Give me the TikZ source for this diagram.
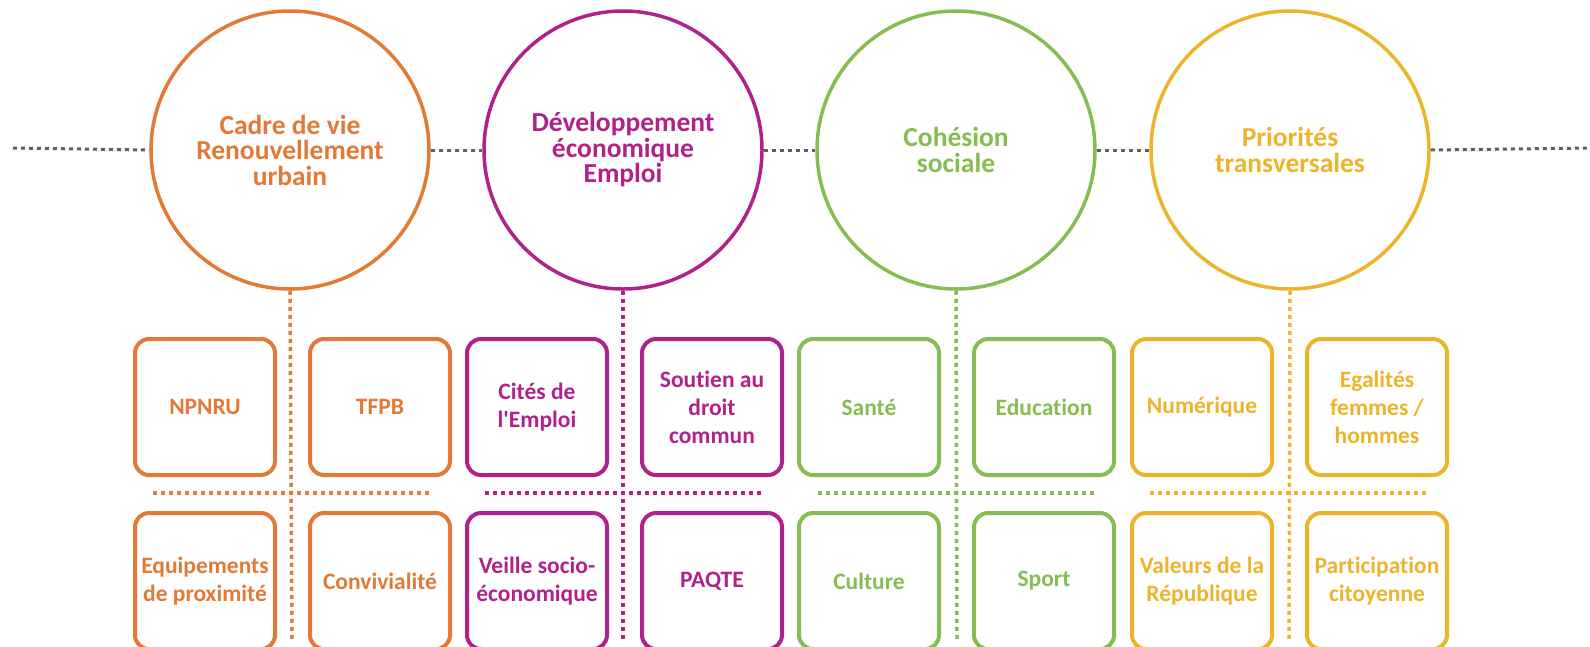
\documentclass[tikz,border=0pt]{standalone}
\usepackage{fontspec}
\setmainfont{Carlito}[Ligatures={TeXOff,CommonOff}]
\definecolor{corange}{RGB}{226,121,55}
\definecolor{cmagenta}{RGB}{177,33,140}
\definecolor{cgreen}{RGB}{134,189,82}
\definecolor{cyellow}{RGB}{236,180,42}
\definecolor{cgray}{RGB}{98,92,104}
\tikzset{
  theme/.style={circle, draw=#1, text=#1, line width=3.5pt, minimum size=278pt, inner sep=0pt,
    align=center, font=\bfseries\fontsize{27.5}{25.5}\selectfont},
  itembox/.style={rectangle, rounded corners=14pt, draw=#1, text=#1, line width=4pt,
    minimum width=140pt, minimum height=136pt, inner sep=2pt, align=center,
    font=\bfseries\fontsize{23.5}{28}\selectfont},
  graydots/.style={draw=cgray, line width=3pt, dash pattern=on 4pt off 4pt},
  colordots/.style={draw=#1, line width=3.5pt, dash pattern=on 4pt off 4pt},
}
\begin{document}
\begin{tikzpicture}[x=1pt,y=-1pt]
\useasboundingbox (0,0) rectangle (1590,646);
\clip (0,0) rectangle (1590,646);

% circles
\node[theme=corange]  (c1) at (290,150) {Cadre de vie\\Renouvellement\\urbain};
\node[theme=cmagenta] (c2) at (623,150) {Développement\\économique\\Emploi};
\node[theme=cgreen]   (c3) at (956,150) {Cohésion\\sociale};
\node[theme=cyellow]  (c4) at (1290,150) {Priorités\\transversales};

% gray horizontal connectors
\coordinate (gl) at (13,148);
\coordinate (gr) at (1592,148);
\draw[graydots] (gl) -- (c1.west);
\draw[graydots] (c1.east) -- (c2.west);
\draw[graydots] (c2.east) -- (c3.west);
\draw[graydots] (c3.east) -- (c4.west);
\draw[graydots] (c4.east) -- (gr);

% orange group
\node[itembox=corange] (o1) at (205,407) {NPNRU};
\node[itembox=corange] (o2) at (380,407) {TFPB};
\node[itembox=corange] (o3) at (205,581) {Equipements\\de proximité};
\node[itembox=corange] (o4) at (380,581) {Convivialité};
\coordinate (ov) at (292,640);
\coordinate (ohl) at (153,493);
\coordinate (ohr) at (430,493);
\draw[colordots=corange] (c1.south) -- (ov);
\draw[colordots=corange] (ohl) -- (ohr);

% magenta group
\node[itembox=cmagenta] (m1) at (537,407) {Cités de\\l'Emploi};
\node[itembox=cmagenta] (m2) at (712,407) {Soutien au\\droit\\commun};
\node[itembox=cmagenta] (m3) at (537,581) {Veille socio-\\économique};
\node[itembox=cmagenta] (m4) at (712,581) {PAQTE};
\coordinate (mv) at (623,640);
\coordinate (mhl) at (485,493);
\coordinate (mhr) at (762,493);
\draw[colordots=cmagenta] (c2.south) -- (mv);
\draw[colordots=cmagenta] (mhl) -- (mhr);

% green group
\node[itembox=cgreen] (g1) at (869,407) {Santé};
\node[itembox=cgreen] (g2) at (1044,407) {Education};
\node[itembox=cgreen] (g3) at (869,581) {Culture};
\node[itembox=cgreen] (g4) at (1044,581) {Sport};
\coordinate (gv) at (957,640);
\coordinate (ghl) at (818,493);
\coordinate (ghr) at (1095,493);
\draw[colordots=cgreen] (c3.south) -- (gv);
\draw[colordots=cgreen] (ghl) -- (ghr);

% yellow group
\node[itembox=cyellow] (y1) at (1202,407) {Numérique};
\node[itembox=cyellow] (y2) at (1377,407) {Egalités\\femmes /\\hommes};
\node[itembox=cyellow] (y3) at (1202,581) {Valeurs de la\\République};
\node[itembox=cyellow] (y4) at (1377,581) {Participation\\citoyenne};
\coordinate (yv) at (1289,640);
\coordinate (yhl) at (1150,493);
\coordinate (yhr) at (1428,493);
\draw[colordots=cyellow] (c4.south) -- (yv);
\draw[colordots=cyellow] (yhl) -- (yhr);
\end{tikzpicture}
\end{document}
